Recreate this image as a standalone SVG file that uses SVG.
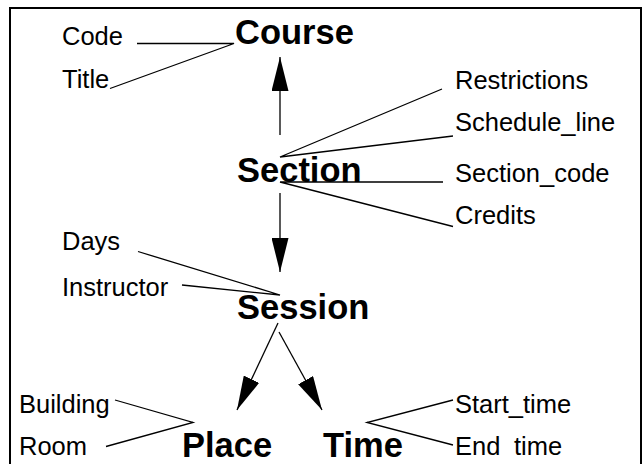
<svg xmlns="http://www.w3.org/2000/svg" width="642" height="464" viewBox="0 0 642 464">
<style>
text{font-family:"Liberation Sans",Arial,Helvetica,sans-serif;fill:#000}
.a{font-size:25.5px}
.e{font-size:34.5px;font-weight:bold}
.l{stroke:#000;stroke-width:1.3;fill:none}
.ar{stroke:#000;stroke-width:1.3;fill:none;marker-end:url(#head)}
</style>
<defs>
<marker id="head" viewBox="0 0 34 17" refX="34" refY="8.5" markerWidth="34" markerHeight="17" markerUnits="userSpaceOnUse" orient="auto">
<path d="M0,0 L34,8.5 L0,17 Z" fill="#000"/>
</marker>
</defs>
<rect x="0" y="0" width="642" height="464" fill="#fff"/>
<rect id="frame" x="10" y="8" width="631" height="500" fill="none" stroke="#000" stroke-width="2"/>
<g id="connectors">
<path class="l" d="M137,43.5 H234 L110,88.5"/>
<path class="l" d="M442,89 L280,157 L453,136"/>
<path class="l" d="M443,182 H280 L453,226.5"/>
<path class="l" d="M138,251.5 L280,295 L182,285"/>
<path class="l" d="M115,400 L193,422.5 L106,446.5"/>
<path class="l" d="M453,400 L367,422.5 L453,445"/>
<path class="ar" d="M280,135 V57"/>
<path class="ar" d="M280,193 V272"/>
<path class="ar" d="M278,323 L237,410"/>
<path class="ar" d="M279,332 L322,410"/>
</g>
<g id="course"><text class="e" x="235" y="44">Course</text></g>
<g id="code"><text class="a" x="62" y="45">Code</text></g>
<g id="title"><text class="a" x="62" y="88">Title</text></g>
<g id="section"><text class="e" x="237" y="182">Section</text></g>
<g id="restrictions"><text class="a" x="455" y="89">Restrictions</text></g>
<g id="schedule_line"><text class="a" x="455" y="131">Schedule_line</text></g>
<g id="section_code"><text class="a" x="455" y="182">Section_code</text></g>
<g id="credits"><text class="a" x="455" y="224">Credits</text></g>
<g id="session"><text class="e" x="237" y="319">Session</text></g>
<g id="days"><text class="a" x="62" y="250">Days</text></g>
<g id="instructor"><text class="a" x="62" y="296">Instructor</text></g>
<g id="place"><text class="e" x="182" y="457">Place</text></g>
<g id="building"><text class="a" x="19" y="413">Building</text></g>
<g id="room"><text class="a" x="19" y="455">Room</text></g>
<g id="time"><text class="e" x="323" y="457">Time</text></g>
<g id="start_time"><text class="a" x="455" y="413">Start_time</text></g>
<g id="end_time"><text class="a" x="455" y="455">End <tspan x="514">time</tspan></text></g>
</svg>
